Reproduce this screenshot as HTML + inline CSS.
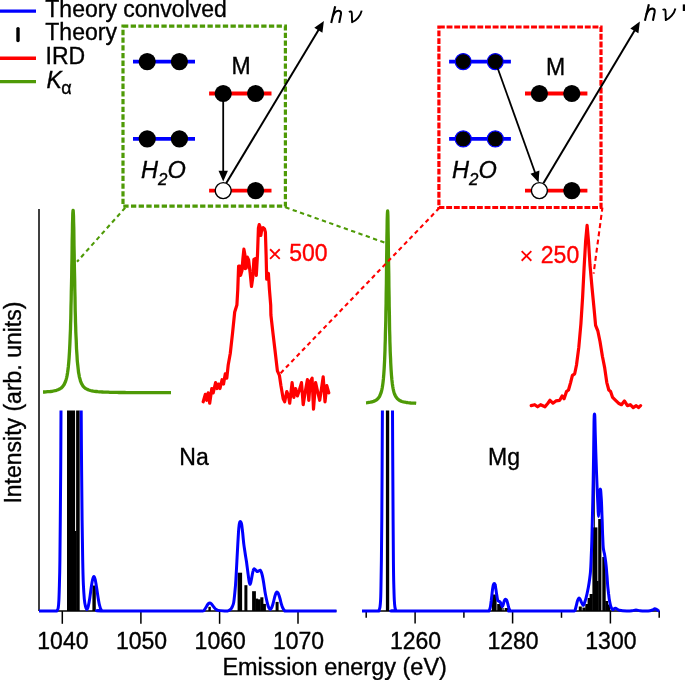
<!DOCTYPE html>
<html><head><meta charset="utf-8"><title>Figure</title>
<style>html,body{margin:0;padding:0;background:#fff}svg{display:block;will-change:transform}text{stroke-width:0.35px;paint-order:stroke fill}</style></head>
<body>
<svg width="685" height="680" viewBox="0 0 685 680">
<rect width="685" height="680" fill="#fff"/>
<g stroke="#000" stroke-width="1.5" fill="none">
<path d="M39,209V611.0"/>
<path d="M39,611.0H336.5"/>
<path d="M362,611.0H659.5"/>
<path d="M62.3,611.0V623.8"/>
<path d="M140.9,611.0V623.8"/>
<path d="M219.6,611.0V623.8"/>
<path d="M298.0,611.0V623.8"/>
<path d="M366.2,611.0V617.8"/>
<path d="M415.1,611.0V623.5"/>
<path d="M463.9,611.0V617.8"/>
<path d="M512.6,611.0V623.5"/>
<path d="M561.5,611.0V617.8"/>
<path d="M610.4,611.0V623.5"/>
<path d="M659.2,611.0V617.8"/>
</g>
<rect x="67.0" y="410.5" width="8.1" height="200.5" fill="#000"/>
<rect x="74.7" y="531.0" width="1.8" height="80.0" fill="#000"/>
<rect x="76.1" y="410.5" width="3.6" height="200.5" fill="#000"/>
<rect x="92.4" y="585.5" width="3.4" height="25.5" fill="#000"/>
<rect x="208.4" y="606.8" width="2.4" height="4.2" fill="#000"/>
<rect x="237.6" y="572.7" width="4.5" height="38.3" fill="#000"/>
<rect x="244.4" y="585.2" width="3.0" height="25.8" fill="#000"/>
<rect x="252.1" y="591.2" width="3.8" height="19.8" fill="#000"/>
<rect x="255.5" y="598.6" width="2.6" height="12.4" fill="#000"/>
<rect x="257.7" y="599.3" width="3.0" height="11.7" fill="#000"/>
<rect x="260.3" y="597.3" width="3.1" height="13.7" fill="#000"/>
<rect x="263.0" y="603.9" width="2.9" height="7.1" fill="#000"/>
<rect x="275.6" y="601.9" width="3.0" height="9.1" fill="#000"/>
<rect x="385.9" y="410.5" width="3.3" height="200.5" fill="#000"/>
<rect x="491.9" y="594.5" width="4.7" height="16.5" fill="#000"/>
<rect x="497.2" y="604.0" width="4.6" height="7.0" fill="#000"/>
<rect x="501.4" y="607.0" width="1.2" height="4.0" fill="#000"/>
<rect x="503.4" y="608.0" width="0.9" height="3.0" fill="#000"/>
<rect x="505.0" y="608.0" width="3.0" height="3.0" fill="#000"/>
<rect x="578.8" y="606.5" width="3.0" height="4.5" fill="#000"/>
<rect x="582.4" y="607.6" width="3.3" height="3.4" fill="#000"/>
<rect x="585.3" y="604.0" width="2.7" height="7.0" fill="#000"/>
<rect x="587.6" y="598.0" width="2.4" height="13.0" fill="#000"/>
<rect x="589.6" y="594.0" width="3.2" height="17.0" fill="#000"/>
<rect x="592.4" y="527.4" width="5.0" height="83.6" fill="#000"/>
<rect x="597.0" y="581.0" width="1.6" height="30.0" fill="#000"/>
<rect x="598.2" y="519.0" width="3.2" height="92.0" fill="#000"/>
<rect x="602.3" y="557.0" width="3.4" height="54.0" fill="#000"/>
<rect x="605.3" y="601.0" width="2.7" height="10.0" fill="#000"/>
<rect x="607.6" y="604.5" width="2.7" height="6.5" fill="#000"/>
<rect x="594.2" y="468.0" width="0.8" height="143.0" fill="#000"/>
<path d="M39.0,611.0C41.7,611.0 52.0,611.1 55.0,611.0C58.0,610.9 56.5,611.0 57.0,610.5C57.5,610.0 57.9,609.8 58.2,608.0C58.5,606.2 58.7,603.8 58.9,600.0C59.1,596.2 59.2,591.7 59.4,585.0C59.6,578.3 59.8,570.8 59.9,560.0C60.0,549.2 60.2,535.0 60.3,520.0C60.4,505.0 60.6,488.2 60.7,470.0C60.8,451.8 61.0,420.4 61.0,410.5" fill="none" stroke="#0000ff" stroke-width="3" stroke-linejoin="round"/>
<path d="M81.2,410.5C81.3,420.4 81.4,451.8 81.6,470.0C81.8,488.2 81.9,505.0 82.1,520.0C82.3,535.0 82.5,549.2 82.7,560.0C82.9,570.8 83.1,578.5 83.4,585.0C83.7,591.5 84.0,595.4 84.3,599.0C84.6,602.6 85.1,604.8 85.5,606.5C85.9,608.2 86.3,609.5 86.8,609.5C87.2,609.5 87.7,608.4 88.2,606.5C88.7,604.6 89.3,601.2 89.8,598.0C90.3,594.8 90.8,590.1 91.3,587.0C91.8,583.9 92.2,581.3 92.6,579.5C93.0,577.7 93.5,576.4 93.9,576.4C94.3,576.4 94.8,577.7 95.2,579.5C95.6,581.3 96.0,584.1 96.5,587.0C97.0,589.9 97.5,593.9 98.0,597.0C98.5,600.1 99.0,603.4 99.6,605.5C100.1,607.6 100.6,608.9 101.3,609.8C102.0,610.7 88.7,610.8 103.5,611.0C118.3,611.2 173.5,611.0 190.0,611.0C206.5,611.0 200.0,611.2 202.4,611.0C204.8,610.8 203.8,610.6 204.5,609.8C205.2,608.9 206.2,606.9 206.8,605.9C207.5,604.9 207.9,604.1 208.4,603.6C208.9,603.1 209.3,602.9 209.8,602.9C210.3,602.9 210.8,603.3 211.3,603.8C211.8,604.3 212.2,605.0 212.9,605.9C213.6,606.8 214.6,608.2 215.5,609.0C216.4,609.8 216.6,610.1 218.2,610.4C219.8,610.7 223.7,610.9 225.3,611.0C226.9,611.1 226.9,611.0 227.6,610.9C228.3,610.8 228.7,610.7 229.3,610.3C229.9,609.9 230.8,609.3 231.3,608.6C231.9,607.9 232.2,607.0 232.6,606.0C233.0,605.0 233.3,604.6 233.7,602.4C234.1,600.2 234.4,596.8 234.8,593.0C235.2,589.2 235.6,584.7 235.9,579.4C236.2,574.1 236.6,566.9 236.9,561.0C237.2,555.1 237.5,548.9 237.8,544.1C238.1,539.3 238.3,535.2 238.5,532.0C238.7,528.8 239.0,526.3 239.2,524.7C239.4,523.1 239.6,522.7 239.8,522.2C239.9,521.7 240.1,521.5 240.3,521.5C240.5,521.5 240.8,521.8 241.0,522.3C241.2,522.8 241.4,522.9 241.7,524.7C242.0,526.5 242.3,529.8 242.7,533.0C243.0,536.2 243.4,540.8 243.8,544.1C244.2,547.4 244.7,550.0 245.1,553.0C245.5,556.0 246.1,558.8 246.5,561.8C246.9,564.8 247.3,568.1 247.7,571.0C248.1,573.9 248.5,577.4 248.8,579.4C249.1,581.4 249.2,582.2 249.4,583.0C249.6,583.8 249.8,584.4 250.0,584.4C250.2,584.4 250.5,583.8 250.7,583.0C250.9,582.2 251.1,580.8 251.4,579.4C251.7,578.0 252.0,576.0 252.3,574.5C252.6,573.0 252.9,571.5 253.2,570.6C253.4,569.7 253.6,569.5 253.8,569.2C254.0,568.9 254.1,568.7 254.4,568.8C254.7,568.9 255.1,569.3 255.6,569.8C256.1,570.2 256.6,571.3 257.1,571.5C257.6,571.7 258.1,571.2 258.6,571.0C259.1,570.8 259.8,570.0 260.2,570.2C260.6,570.4 260.9,571.0 261.3,572.0C261.7,573.0 262.0,574.1 262.4,575.9C262.8,577.7 263.3,580.4 263.7,583.0C264.1,585.6 264.6,589.2 265.0,591.8C265.4,594.4 265.9,596.5 266.3,598.5C266.7,600.5 267.2,602.6 267.6,604.1C268.0,605.6 268.4,606.9 268.9,607.8C269.3,608.7 269.9,609.4 270.3,609.4C270.8,609.4 271.2,608.7 271.6,607.8C272.0,606.9 272.5,605.6 272.9,604.1C273.3,602.6 273.8,600.7 274.2,599.0C274.6,597.3 275.2,595.1 275.6,594.0C276.0,592.9 276.1,592.9 276.3,592.6C276.5,592.3 276.7,592.0 277.0,592.0C277.3,592.0 277.6,592.3 277.9,592.8C278.2,593.3 278.4,593.8 278.8,594.8C279.2,595.8 279.7,597.5 280.1,599.0C280.5,600.5 280.9,602.6 281.4,604.1C281.8,605.6 282.3,607.0 282.8,608.0C283.3,609.0 283.8,609.8 284.4,610.3C285.0,610.8 285.8,610.9 286.5,611.0C287.2,611.1 280.5,611.0 288.8,611.0C297.1,611.0 328.6,611.0 336.5,611.0" fill="none" stroke="#0000ff" stroke-width="3" stroke-linejoin="round"/>
<path d="M362.0,611.0C364.6,611.0 374.7,611.1 377.5,611.0C380.3,610.9 378.6,611.0 379.0,610.3C379.4,609.6 379.7,608.7 380.0,607.0C380.3,605.3 380.4,603.7 380.6,600.0C380.8,596.3 380.9,591.7 381.0,585.0C381.1,578.3 381.3,570.8 381.4,560.0C381.5,549.2 381.7,535.0 381.8,520.0C381.9,505.0 382.0,488.2 382.1,470.0C382.2,451.8 382.3,420.4 382.4,410.5" fill="none" stroke="#0000ff" stroke-width="3" stroke-linejoin="round"/>
<path d="M392.5,410.5C392.5,420.4 392.7,451.8 392.8,470.0C392.8,488.2 392.9,505.0 393.1,520.0C393.2,535.0 393.3,549.2 393.4,560.0C393.5,570.8 393.6,578.3 393.8,585.0C394.0,591.7 394.1,596.3 394.3,600.0C394.5,603.7 394.6,605.3 394.9,607.0C395.1,608.7 395.4,609.6 395.8,610.3C396.2,611.0 383.3,610.9 397.3,611.0C411.3,611.1 464.9,611.0 480.0,611.0C495.1,611.0 486.6,611.2 488.2,611.0C489.8,610.8 489.0,610.7 489.4,610.0C489.8,609.3 490.1,608.2 490.4,606.7C490.7,605.2 490.9,603.0 491.2,601.0C491.4,599.0 491.7,597.0 491.9,595.0C492.1,593.0 492.4,590.7 492.6,589.0C492.9,587.3 493.1,585.5 493.4,584.6C493.7,583.7 493.9,583.4 494.2,583.4C494.5,583.4 494.9,583.8 495.1,584.6C495.4,585.4 495.5,586.8 495.7,588.0C495.9,589.2 496.1,590.7 496.3,592.1C496.5,593.5 496.8,595.2 497.0,596.5C497.2,597.8 497.4,599.3 497.7,600.1C498.0,600.9 498.3,600.9 498.7,601.2C499.1,601.5 499.5,601.3 499.9,601.8C500.3,602.3 500.8,603.2 501.2,604.0C501.6,604.8 502.0,606.7 502.4,606.7C502.8,606.7 503.1,605.0 503.4,604.0C503.7,603.0 504.0,601.6 504.3,600.9C504.6,600.2 504.8,599.9 505.0,599.6C505.2,599.3 505.6,599.2 505.8,599.3C506.1,599.4 506.3,599.6 506.5,600.0C506.7,600.4 506.9,600.7 507.2,601.6C507.5,602.5 507.9,604.3 508.2,605.5C508.5,606.7 508.8,608.1 509.1,608.9C509.4,609.7 509.7,610.1 510.0,610.5C510.3,610.9 510.4,610.9 510.9,611.0C511.4,611.1 504.0,611.0 513.0,611.0C522.0,611.0 554.8,611.0 565.0,611.0C575.2,611.0 572.6,611.3 574.3,611.0C576.0,610.7 575.1,609.9 575.4,609.0C575.7,608.1 575.9,607.0 576.3,605.6C576.7,604.2 577.1,601.8 577.6,600.5C578.1,599.2 578.6,598.2 579.0,598.0C579.4,597.8 579.8,598.8 580.2,599.5C580.6,600.2 581.1,601.6 581.5,602.5C581.9,603.4 582.3,604.1 582.6,604.6C582.9,605.1 583.2,605.5 583.5,605.2C583.8,604.9 584.3,603.4 584.5,603.0C584.7,602.6 584.4,603.4 584.6,602.6C584.8,601.9 585.5,600.1 585.9,598.5C586.3,596.9 586.8,594.9 587.2,593.0C587.6,591.1 588.0,589.2 588.4,587.0C588.8,584.8 589.2,582.4 589.5,580.0C589.8,577.6 590.1,575.9 590.4,572.6C590.7,569.3 590.9,565.1 591.1,560.0C591.3,554.9 591.6,548.1 591.8,541.8C592.0,535.5 592.1,528.9 592.3,522.0C592.5,515.1 592.6,507.6 592.8,500.6C592.9,493.6 593.1,487.6 593.2,480.0C593.3,472.4 593.5,463.0 593.6,455.0C593.7,447.0 593.8,438.0 593.9,432.0C594.0,426.0 594.0,421.9 594.1,419.0C594.2,416.1 594.2,415.5 594.3,414.6C594.4,413.8 594.4,413.9 594.5,413.9C594.6,413.9 594.6,413.8 594.7,414.6C594.8,415.5 594.8,416.1 594.9,419.0C595.0,421.9 595.1,426.5 595.2,432.0C595.4,437.5 595.6,445.3 595.8,452.0C596.0,458.7 596.3,465.7 596.5,472.0C596.7,478.3 597.0,484.8 597.2,490.0C597.4,495.2 597.6,499.3 597.8,503.0C598.0,506.7 598.1,509.8 598.2,512.0C598.3,514.2 598.4,516.5 598.5,516.5C598.6,516.5 598.7,514.4 598.8,512.0C598.9,509.6 599.1,505.2 599.2,502.0C599.4,498.8 599.6,495.0 599.7,493.0C599.9,491.0 600.0,490.6 600.1,490.0C600.2,489.4 600.4,488.8 600.5,489.3C600.6,489.8 600.8,491.1 600.9,493.0C601.0,494.9 601.2,496.8 601.4,500.6C601.6,504.4 601.8,510.9 602.0,516.0C602.2,521.1 602.4,527.3 602.5,531.5C602.6,535.7 602.8,538.2 602.9,541.0C603.0,543.8 603.1,546.2 603.3,548.0C603.5,549.8 603.7,550.5 603.9,551.5C604.1,552.5 604.3,552.8 604.5,554.0C604.7,555.2 605.0,556.9 605.3,559.0C605.6,561.1 605.9,563.7 606.2,566.5C606.5,569.3 606.7,572.6 607.0,576.0C607.3,579.4 607.5,584.0 607.8,587.0C608.1,590.0 608.4,591.9 608.6,594.0C608.9,596.1 609.0,597.6 609.3,599.4C609.6,601.1 610.0,603.1 610.3,604.5C610.6,605.9 610.9,606.8 611.3,607.7C611.7,608.6 612.3,609.5 612.8,609.7C613.2,609.9 613.6,609.0 614.0,608.8C614.4,608.5 614.8,608.1 615.4,608.2C616.0,608.3 616.8,608.9 617.5,609.3C618.2,609.6 618.1,610.0 619.6,610.3C621.1,610.6 624.7,610.9 626.8,611.0C628.9,611.1 630.5,610.9 632.0,610.7C633.5,610.6 634.7,610.1 636.0,610.1C637.3,610.1 638.5,610.6 640.0,610.7C641.5,610.9 643.3,611.0 645.0,611.0C646.7,611.0 648.8,611.0 650.0,610.8C651.2,610.6 651.7,610.3 652.5,610.0C653.3,609.7 654.1,608.9 654.8,608.8C655.5,608.7 656.2,609.3 656.8,609.6C657.4,609.9 657.8,610.5 658.3,610.7C658.8,610.9 659.3,611.0 659.5,611.0" fill="none" stroke="#0000ff" stroke-width="3" stroke-linejoin="round"/>
<path d="M43.0,392.0L44.5,392.0L46.0,391.9L47.5,391.7L49.0,391.6L50.5,391.5L52.0,391.3L53.5,391.0L55.0,390.7L56.5,390.3L58.0,389.8L59.5,389.1L61.0,388.2L62.5,386.8L64.0,384.8L65.5,381.5L65.9,380.3L66.3,378.9L66.7,377.3L67.1,375.4L67.5,373.1L67.9,370.3L68.3,367.0L68.7,362.9L69.1,357.8L69.5,351.4L69.9,343.4L70.3,333.2L70.5,328.7L70.6,323.8L70.8,318.4L70.9,312.5L71.0,306.2L71.2,299.2L71.3,291.8L71.5,283.8L71.7,275.3L71.8,266.5L72.0,257.5L72.1,248.4L72.2,239.5L72.4,231.2L72.5,223.8L72.7,217.8L72.8,213.3L73.0,210.9L73.1,210.4L73.2,210.5L73.3,212.3L73.5,216.1L73.6,221.7L73.8,228.6L73.9,236.7L74.0,245.4L74.2,254.4L74.3,263.5L74.5,272.4L74.7,281.0L74.8,289.2L75.0,296.8L75.1,303.9L75.2,310.5L75.4,316.5L75.5,322.1L75.7,327.1L75.8,331.8L76.0,336.0L76.2,339.9L76.5,348.6L77.0,355.6L77.3,361.1L77.8,365.5L78.2,369.1L78.5,372.1L79.0,374.6L79.3,376.6L79.8,378.4L80.2,379.8L80.5,381.1L81.0,382.2L81.3,383.1L82.8,385.8L84.3,387.5L85.8,388.6L87.3,389.4L88.8,390.0L90.3,390.5L91.8,390.8L93.3,391.1L94.8,391.3L96.3,391.5L97.8,391.7L99.3,391.8L100.8,391.9L102.3,392.0L103.8,392.1L105.3,392.1L106.8,392.2L108.3,392.2L109.8,392.3L111.3,392.3L112.8,392.4L114.3,392.4L115.8,392.4L117.3,392.4L118.8,392.5L120.3,392.5L121.8,392.5L123.3,392.5L124.8,392.5L126.3,392.6L127.8,392.6L129.3,392.6L130.8,392.6L132.3,392.6L133.8,392.6L135.3,392.6L136.8,392.6L138.3,392.6L139.8,392.6L141.3,392.7L142.8,392.7L144.3,392.7L145.8,392.7L147.3,392.7L148.8,392.7L150.3,392.7L151.8,392.7L153.3,392.7L154.8,392.7L156.3,392.7L157.8,392.7L159.3,392.7L160.8,392.7L162.3,392.7L163.8,392.7L165.3,392.7L166.8,392.7L168.3,392.7L169.8,392.7L171.0,392.7" fill="none" stroke="#4e9a06" stroke-width="3.3" stroke-linejoin="round"/>
<path d="M366.0,402.8L367.5,402.7L369.0,402.4L370.5,402.2L372.0,401.8L373.5,401.4L375.0,400.8L376.5,399.9L378.0,398.6L379.5,396.5L381.0,392.9L381.4,391.6L381.8,389.9L382.2,388.0L382.6,385.6L383.0,382.6L383.4,378.9L383.8,374.2L384.2,368.2L384.6,360.3L385.0,350.0L385.1,345.2L385.3,339.9L385.4,334.0L385.6,327.5L385.8,320.2L385.9,312.1L386.1,303.2L386.2,293.5L386.4,283.0L386.5,271.9L386.6,260.4L386.8,248.8L386.9,237.7L387.1,227.8L387.2,219.6L387.4,213.9L387.6,211.2L387.6,211.0L387.7,211.7L387.9,215.5L388.0,222.1L388.1,230.9L388.3,241.3L388.4,252.6L388.6,264.2L388.8,275.6L388.9,286.6L389.1,296.8L389.2,306.3L389.4,314.9L389.5,322.7L389.6,329.7L389.8,336.1L389.9,341.8L390.1,346.9L390.2,351.4L390.4,355.5L390.6,359.2L390.7,362.5L391.1,369.9L391.5,375.5L391.9,379.9L392.3,383.4L392.7,386.2L393.1,388.5L393.5,390.4L393.9,391.9L394.3,393.2L394.7,394.4L395.1,395.3L395.5,396.1L395.9,396.8L397.4,398.8L398.9,400.0L400.4,400.9L401.9,401.5L403.4,401.9L404.9,402.2L406.4,402.5L407.9,402.7L409.4,402.8L410.9,403.0L412.4,403.1L413.9,403.2L415.4,403.2L416.2,403.3" fill="none" stroke="#4e9a06" stroke-width="3.3" stroke-linejoin="round"/>
<path d="M203.2,401.8L205.3,394.4L206.8,400.3L208.2,392.9L209.7,403.2L211.8,388.5L213.2,392.9L215.6,382.6L217.1,388.5L218.5,384.1L220.0,388.5L222.1,379.7L223.5,384.1L225.3,373.8L226.8,378.2L228.2,365.0L230.3,353.2L232.6,332.6L234.7,312.0L236.9,305.1L237.8,289.2L238.6,266.0L239.8,266.0L240.6,275.3L242.0,270.6L242.9,258.7L243.9,249.2L244.9,254.7L245.1,268.6L246.2,268.0L247.3,257.1L248.6,260.0L250.2,273.3L251.5,286.5L252.8,277.3L253.9,259.4L255.2,258.7L256.3,275.3L257.5,254.7L258.4,228.2L259.2,224.5L260.1,226.9L260.8,235.5L261.8,229.6L263.1,227.6L264.5,228.9L265.4,232.2L266.1,254.7L266.7,279.2L267.6,273.3L268.4,273.3L269.4,289.2L270.7,305.1L270.9,315.0L272.9,332.6L275.0,350.3L277.4,370.9L279.4,375.3L280.9,385.6L283.2,398.8L284.7,401.8L286.8,391.5L288.5,395.9L289.7,403.2L292.1,382.6L293.8,397.4L295.6,388.5L297.4,395.9L299.4,390.0L301.5,382.6L303.2,404.7L305.3,391.5L307.4,379.7L308.8,400.3L310.3,381.2L312.1,378.2L313.5,409.1L315.6,382.6L317.6,391.5L319.7,400.3L321.5,388.5L323.2,376.8L325.0,401.8L326.8,385.6L328.8,392.9" fill="none" stroke="#ff0000" stroke-width="3.2" stroke-linejoin="round" stroke-linecap="round"/>
<path d="M531.2,405.6L534.7,404.7L537.6,406.8L540.6,404.7L545.0,406.8L547.9,403.2L550.0,400.3L552.9,403.2L555.9,400.9L559.7,400.3L562.1,395.9L564.1,398.8L566.5,391.5L568.5,390.0L570.6,382.6L572.4,375.3L574.7,373.8L576.5,365.0L578.8,347.4L580.9,323.8L582.6,297.4L584.1,267.9L585.6,241.5L587.1,225.3L588.5,241.5L590.0,265.0L592.1,288.5L594.1,309.1L595.6,325.3L597.9,331.2L600.0,341.5L602.4,356.2L604.7,367.9L606.8,382.6L608.8,390.0L610.6,391.5L612.6,397.4L615.6,400.3L618.5,403.2L621.5,404.7L624.4,400.9L627.4,405.6L630.3,404.7L633.2,407.6L636.2,405.6L638.5,407.6L640.6,405.6" fill="none" stroke="#ff0000" stroke-width="3.2" stroke-linejoin="round" stroke-linecap="round"/>
<g fill="none" stroke-width="2.1" stroke-dasharray="4.3 3.45">
<path d="M125.2,207.7L77,261.8" stroke="#4e9a06"/>
<path d="M285.4,207.3L385.8,243" stroke="#4e9a06"/>
<path d="M439.3,208.0L280.0,373.8" stroke="#ff0000" stroke-width="2.1"/>
<path d="M602.4,207.6L593.6,273.7" stroke="#ff0000" stroke-width="2.1" stroke-dasharray="5 3.3" stroke-dashoffset="1"/>
</g>
<rect x="123" y="26.2" width="162.4" height="180" fill="none" stroke="#4e9a06" stroke-width="3.2" stroke-dasharray="5.3 2.38"/>
<rect x="438.9" y="27" width="162.1" height="180.5" fill="none" stroke="#ff0000" stroke-width="3.2" stroke-dasharray="5.9 1.78"/>
<path d="M133,61.6H195" stroke="#0000ff" stroke-width="3.8" fill="none"/>
<circle cx="147.2" cy="61.6" r="8.6" fill="#000"/>
<circle cx="179.4" cy="61.6" r="8.6" fill="#000"/>
<path d="M133,138.9H195" stroke="#0000ff" stroke-width="3.8" fill="none"/>
<circle cx="147.2" cy="138.9" r="8.6" fill="#000"/>
<circle cx="179.4" cy="138.9" r="8.6" fill="#000"/>
<path d="M209.1,93.5H271.5" stroke="#ff0000" stroke-width="3.8" fill="none"/>
<circle cx="223.2" cy="93.5" r="8.6" fill="#000"/>
<circle cx="255.6" cy="93.5" r="8.6" fill="#000"/>
<path d="M209.1,190.6H271.5" stroke="#ff0000" stroke-width="3.8" fill="none"/>
<circle cx="255.6" cy="190.6" r="8.6" fill="#000"/>
<circle cx="223.2" cy="190.6" r="8.0" fill="#fff" stroke="#000" stroke-width="1.4"/>
<path d="M449.1,61.6H510.9" stroke="#0000ff" stroke-width="3.8" fill="none"/>
<circle cx="463.2" cy="61.6" r="8.0" fill="#000" stroke="#0000ff" stroke-width="1.2"/>
<circle cx="495.3" cy="61.6" r="8.0" fill="#000" stroke="#0000ff" stroke-width="1.2"/>
<path d="M449.1,138.9H510.9" stroke="#0000ff" stroke-width="3.8" fill="none"/>
<circle cx="463.2" cy="138.9" r="8.0" fill="#000" stroke="#0000ff" stroke-width="1.2"/>
<circle cx="495.3" cy="138.9" r="8.0" fill="#000" stroke="#0000ff" stroke-width="1.2"/>
<path d="M525,93.5H587.4" stroke="#ff0000" stroke-width="3.8" fill="none"/>
<circle cx="539.4" cy="93.5" r="8.6" fill="#000"/>
<circle cx="571.8" cy="93.5" r="8.6" fill="#000"/>
<path d="M525,190.6H587.4" stroke="#ff0000" stroke-width="3.8" fill="none"/>
<circle cx="571.8" cy="190.6" r="8.6" fill="#000"/>
<circle cx="539.4" cy="190.6" r="8.0" fill="#fff" stroke="#000" stroke-width="1.4"/>
<path d="M223.2,93.5L223.2,171.8" stroke="#000" stroke-width="1.8" fill="none"/>
<path d="M223.2,181.6L218.5,170.8L227.9,170.8Z" fill="#000"/>
<path d="M226.2,183.3L318.8,29.4" stroke="#000" stroke-width="2.0" fill="none"/>
<path d="M323.9,21.0L322.4,32.7L314.3,27.8Z" fill="#000"/>
<path d="M497.6,68.0L535.3,173.2" stroke="#000" stroke-width="1.8" fill="none"/>
<path d="M538.6,182.4L530.5,173.8L539.4,170.6Z" fill="#000"/>
<path d="M543.4,183.3L634.9,29.9" stroke="#000" stroke-width="2.0" fill="none"/>
<path d="M639.9,21.5L638.4,33.2L630.3,28.4Z" fill="#000"/>
<path d="M0,11.1H36" stroke="#0000ff" stroke-width="3.4"/>
<path d="M18.0,28.6V40.5" stroke="#000" stroke-width="3.4" stroke-linecap="round"/>
<path d="M0,58.2H36" stroke="#ff0000" stroke-width="3.4"/>
<path d="M0,81.65H36" stroke="#4e9a06" stroke-width="3.4"/>
<text x="45.3" y="17.2" font-size="23" fill="#000" stroke="#000" text-anchor="start" font-family="Liberation Sans, sans-serif" >Theory convolved</text>
<text x="45.3" y="40.1" font-size="23" fill="#000" stroke="#000" text-anchor="start" font-family="Liberation Sans, sans-serif" >Theory</text>
<text x="45.6" y="64.1" font-size="23" fill="#000" stroke="#000" text-anchor="start" font-family="Liberation Sans, sans-serif" >IRD</text>
<text x="46.5" y="88" font-size="23" stroke="#000" font-family="Liberation Sans, sans-serif"><tspan font-style="italic">K</tspan><tspan font-size="18" dy="5.8" dx="-0.5">α</tspan></text>
<text x="62.9" y="648.6" font-size="23" fill="#000" stroke="#000" text-anchor="middle" font-family="Liberation Sans, sans-serif" >1040</text>
<text x="141.5" y="648.6" font-size="23" fill="#000" stroke="#000" text-anchor="middle" font-family="Liberation Sans, sans-serif" >1050</text>
<text x="220.2" y="648.6" font-size="23" fill="#000" stroke="#000" text-anchor="middle" font-family="Liberation Sans, sans-serif" >1060</text>
<text x="298.6" y="648.6" font-size="23" fill="#000" stroke="#000" text-anchor="middle" font-family="Liberation Sans, sans-serif" >1070</text>
<text x="415.6" y="648.6" font-size="23" fill="#000" stroke="#000" text-anchor="middle" font-family="Liberation Sans, sans-serif" >1260</text>
<text x="513.1" y="648.6" font-size="23" fill="#000" stroke="#000" text-anchor="middle" font-family="Liberation Sans, sans-serif" >1280</text>
<text x="610.9" y="648.6" font-size="23" fill="#000" stroke="#000" text-anchor="middle" font-family="Liberation Sans, sans-serif" >1300</text>
<text x="222.4" y="674.6" font-size="23" fill="#000" stroke="#000" text-anchor="start" font-family="Liberation Sans, sans-serif"  textLength="224.5" lengthAdjust="spacingAndGlyphs">Emission energy (eV)</text>
<text transform="translate(20.5,503.6) rotate(-90)" font-size="23" stroke="#000" font-family="Liberation Sans, sans-serif">Intensity (arb. units)</text>
<text x="179.3" y="465.2" font-size="23" fill="#000" stroke="#000" text-anchor="start" font-family="Liberation Sans, sans-serif" >Na</text>
<text x="488" y="465.2" font-size="23" fill="#000" stroke="#000" text-anchor="start" font-family="Liberation Sans, sans-serif" >Mg</text>
<text x="289.2" y="260.9" font-size="23" fill="#ff0000" stroke="#ff0000" text-anchor="start" font-family="Liberation Sans, sans-serif" >500</text>
<text x="540.8" y="263.4" font-size="23" fill="#ff0000" stroke="#ff0000" text-anchor="start" font-family="Liberation Sans, sans-serif" >250</text>
<path d="M270.04999999999995,249.25L279.75,258.95M270.04999999999995,258.95L279.75,249.25" stroke="#ff0000" stroke-width="1.8" fill="none"/>
<path d="M521.65,251.05L531.35,260.75M521.65,260.75L531.35,251.05" stroke="#ff0000" stroke-width="1.8" fill="none"/>
<text x="231.5" y="73.8" font-size="23" fill="#000" stroke="#000" text-anchor="start" font-family="Liberation Sans, sans-serif" >M</text>
<text x="546" y="75.3" font-size="23" fill="#000" stroke="#000" text-anchor="start" font-family="Liberation Sans, sans-serif" >M</text>
<text x="141" y="178.2" font-size="23" font-style="italic" stroke="#000" font-family="Liberation Sans, sans-serif" textLength="44.8" lengthAdjust="spacingAndGlyphs">H<tspan font-size="16.5" dy="6.6">2</tspan><tspan dy="-6.6">O</tspan></text>
<text x="452" y="178.2" font-size="23" font-style="italic" stroke="#000" font-family="Liberation Sans, sans-serif" textLength="44.8" lengthAdjust="spacingAndGlyphs">H<tspan font-size="16.5" dy="6.6">2</tspan><tspan dy="-6.6">O</tspan></text>
<g transform="translate(330.7,22.9)" fill="none" stroke="#000" stroke-width="2.1" stroke-linejoin="round">
<path d="M0.5,0L4.5,-16.6"/>
<path d="M2.0,-6.3C3.4,-10.3 5.9,-12.3 8,-12.2C10,-12.1 10.6,-10.8 10.2,-8.5L8.5,0"/>
<path d="M18.2,-10.9C19.8,-11.9 21.0,-11.6 21.1,-9.8L21.4,-0.7C25.5,-2.2 29.8,-7 31,-12.3" stroke-width="1.9"/>
</g>
<g transform="translate(644.4,20.8)" fill="none" stroke="#000" stroke-width="2.1" stroke-linejoin="round">
<path d="M0.5,0L4.5,-16.6"/>
<path d="M2.0,-6.3C3.4,-10.3 5.9,-12.3 8,-12.2C10,-12.1 10.6,-10.8 10.2,-8.5L8.5,0"/>
<path d="M18.2,-10.9C19.8,-11.9 21.0,-11.6 21.1,-9.8L21.4,-0.7C25.5,-2.2 29.8,-7 31,-12.3" stroke-width="1.9"/>
<rect x="38.4" y="-16.4" width="3" height="6.6" fill="#000" stroke="none"/>
</g>
</svg>
</body></html>
